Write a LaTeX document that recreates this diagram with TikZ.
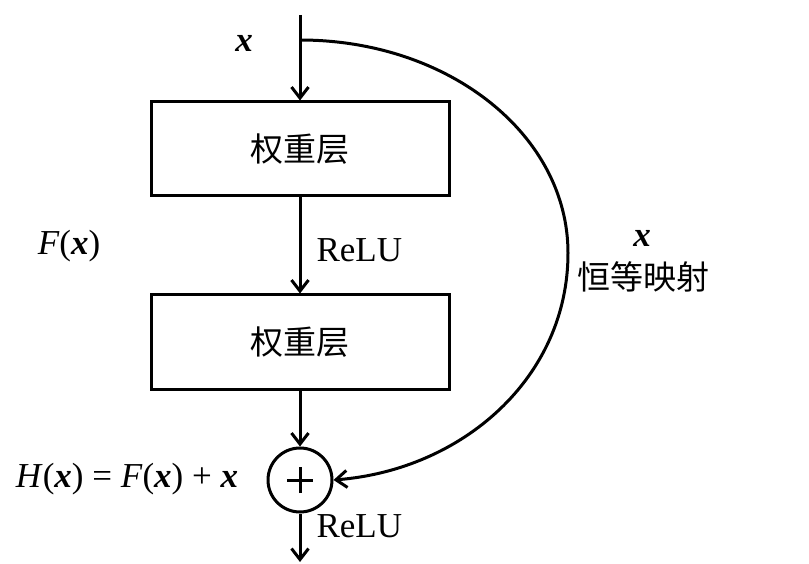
\documentclass[tikz,border=0pt]{standalone}
\usepackage{fontspec}
\setmainfont{Liberation Serif}
\newfontfamily\cjk{Noto Sans CJK SC}
\usetikzlibrary{arrows.meta}
\tikzset{
  arr/.style={-{Straight Barb[length=11pt,width=17pt,line width=3pt]}},
  layerbox/.style={draw,line width=3pt,minimum width=298pt,minimum height=94pt,inner sep=0pt,font=\fontsize{33}{36}\selectfont\cjk},
  lbl/.style={inner sep=0pt,font=\fontsize{35}{38}\selectfont},
  cjklbl/.style={inner sep=0pt,font=\fontsize{33}{36}\selectfont\cjk},
}
\begin{document}
\begin{tikzpicture}[x=1pt,y=-1pt,line width=3pt]
\useasboundingbox (0,0) rectangle (809,564);
\coordinate (top) at (300,15);
\coordinate (c0) at (300,40);
\coordinate (cr) at (568,253);
\coordinate (bot) at (300,562);
\node[layerbox] (b1) at (300,149) {权重层};
\node[layerbox] (b2) at (300,342) {权重层};
\node[draw,circle,line width=3pt,minimum size=64pt,inner sep=0pt] (s) at (300,480) {};
\draw ([xshift=-13pt]s.center) -- ([xshift=13pt]s.center);
\draw ([yshift=-13pt]s.center) -- ([yshift=13pt]s.center);
\draw[arr] (top) -- (b1.north);
\draw[arr] (b1.south) -- (b2.north);
\draw[arr] (b2.south) -- (s.north);
\draw[arr] (s.south) -- (bot);
\draw[arr] (c0) .. controls (449,40) and (568,135) .. (cr) .. controls (568,378) and (462,470) .. (s.east);
\node[lbl] (xt) at (244,43) {\textbf{\textit{x}}};
\node[lbl] (fx) at (69,246) {\textit{F}(\textbf{\textit{x}})};
\node[lbl,anchor=west] (r1) at (315,250) {ReLU};
\node[lbl,anchor=west] (r2) at (315,526) {ReLU};
\node[lbl] (hx) at (127,479) {\textit{H}(\textbf{\textit{x}}) = \textit{F}(\textbf{\textit{x}}) + \textbf{\textit{x}}};
\node[lbl] (xr) at (642,238) {\textbf{\textit{x}}};
\node[cjklbl] (id) at (643,277) {恒等映射};
\end{tikzpicture}
\end{document}
